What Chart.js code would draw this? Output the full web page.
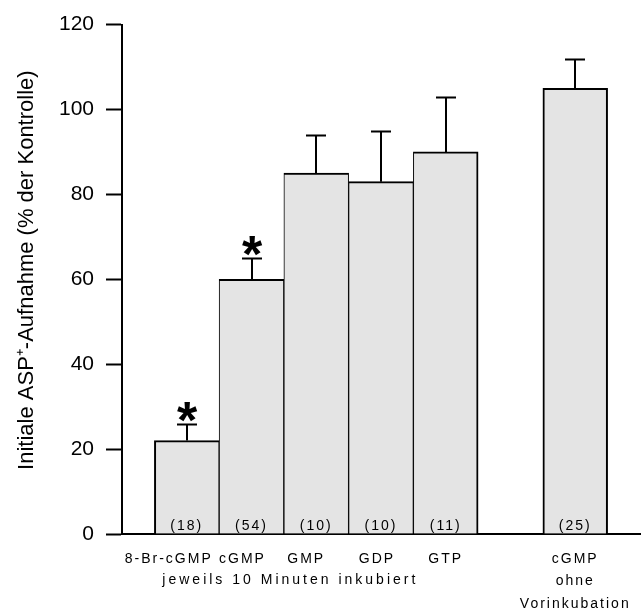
<!DOCTYPE html>
<html>
<head>
<meta charset="utf-8">
<script src="https://cdn.jsdelivr.net/npm/chart.js@4/dist/chart.umd.min.js"></script>
<style>
  html, body { margin: 0; padding: 0; background: #fff; }
  #wrap { width: 641px; height: 612px; }
</style>
</head>
<body>
<div id="wrap"><canvas id="asp_chart" width="641" height="612"></canvas></div>
<script>
// Werte
const positions = [1, 2, 3, 4, 5, 7];
const labels = ['8-Br-cGMP', 'cGMP', 'GMP', 'GDP', 'GTP', ['cGMP', 'ohne', 'Vorinkubation']];
const groupLabel = 'jeweils 10 Minuten inkubiert';
const values = [22, 60, 85, 83, 90, 105];
const errors = [4, 5, 9, 12, 13, 7];
const nLabels = ['(18)', '(54)', '(10)', '(10)', '(11)', '(25)'];
const significant = [true, true, false, false, false, false];
const yTicks = [0, 20, 40, 60, 80, 100, 120];
const yTitle = 'Initiale ASP\u207A-Aufnahme (% der Kontrolle)';

const FONT = '"Liberation Sans", Arial, sans-serif';

// Fehlerbalken (nur nach oben) und Sternchen
const errorBars = {
    id: 'errorBars',
    afterDatasetsDraw(chart) {
        let ctx = chart.ctx;
        let xs = chart.scales.x;
        let ys = chart.scales.y;
        ctx.save();
        ctx.strokeStyle = '#000';
        ctx.lineWidth = 2;
        for (let i = 0; i < values.length; i++) {
            let x = Math.round(xs.getPixelForValue(positions[i]));
            let yTop = ys.getPixelForValue(values[i]);
            let yErr = Math.round(ys.getPixelForValue(values[i] + errors[i])) + 0.5;
            ctx.beginPath();
            ctx.moveTo(x, yTop);
            ctx.lineTo(x, yErr);
            ctx.moveTo(x - 10, yErr);
            ctx.lineTo(x + 10, yErr);
            ctx.stroke();

            if (significant[i]) {
                ctx.font = 'bold 52px ' + FONT;
                ctx.textAlign = 'center';
                ctx.textBaseline = 'alphabetic';
                ctx.fillStyle = '#000';
                let m = ctx.measureText('*');
                let cy = yErr - 13;
                ctx.fillText('*', x, cy + (m.actualBoundingBoxAscent - m.actualBoundingBoxDescent) / 2);
            }
        }
        ctx.restore();
    }
};

// Beschriftungen unter der x-Achse und n-Zahlen in den Balken
const textLabels = {
    id: 'textLabels',
    afterDraw(chart) {
        let ctx = chart.ctx;
        let xs = chart.scales.x;
        let bottom = chart.chartArea.bottom;
        let nudge = [-18, -9, -10, -4, 0, 0];
        ctx.save();
        ctx.fillStyle = '#000';
        ctx.textAlign = 'center';
        ctx.textBaseline = 'middle';
        ctx.font = '14px ' + FONT;
        ctx.letterSpacing = '2px';

        for (let i = 0; i < labels.length; i++) {
            let x = xs.getPixelForValue(positions[i]);
            let lines = Array.isArray(labels[i]) ? labels[i] : [labels[i]];
            for (let j = 0; j < lines.length; j++) {
                ctx.fillText(lines[j], x + nudge[i], bottom + 25 + j * 22.5);
            }
            ctx.fillText(nLabels[i], x, bottom - 8);
        }

        ctx.letterSpacing = '3px';
        ctx.fillText(groupLabel, xs.getPixelForValue(2.6), bottom + 46);
        ctx.restore();
    }
};

let chart = new Chart(document.getElementById('asp_chart').getContext('2d'), {
    type: 'bar',
    data: {
        datasets: [{
            data: positions.map((p, i) => ({x: p, y: values[i]})),
            backgroundColor: '#e4e4e4',
            borderColor: '#000',
            borderWidth: (c) => ({
                left: (c.dataIndex === 0 || c.dataIndex === 5) ? 2 : 1,
                right: (c.dataIndex === 4 || c.dataIndex === 5) ? 2 : 1,
                top: 2,
                bottom: 0
            }),
            borderSkipped: 'start',
            barPercentage: 1,
            categoryPercentage: 1
        }]
    },
    options: {
        responsive: false,
        animation: false,
        devicePixelRatio: 1,
        layout: { padding: { top: 19, right: 1, left: 0, bottom: 0 } },
        plugins: {
            legend: { display: false },
            tooltip: { enabled: false }
        },
        scales: {
            x: {
                type: 'linear',
                min: 0,
                max: 8,
                offset: false,
                ticks: { display: false, stepSize: 1 },
                grid: { display: false },
                border: { display: true, color: '#000', width: 2 },
                afterFit: (s) => { s.height = 78; }
            },
            y: {
                min: 0,
                max: 120,
                afterBuildTicks: (s) => { s.ticks = yTicks.map(v => ({value: v})); },
                ticks: {
                    color: '#000',
                    padding: 12,
                    font: { family: FONT, size: 21 }
                },
                grid: {
                    drawOnChartArea: false,
                    drawTicks: true,
                    tickLength: 16,
                    tickWidth: 2,
                    tickColor: '#000'
                },
                border: { display: true, color: '#000', width: 2 },
                title: {
                    display: true,
                    text: '   ' + yTitle,
                    color: '#000',
                    font: { family: FONT, size: 22 },
                    padding: { top: 14, bottom: 0 }
                },
                afterFit: (s) => { s.width = 122; }
            }
        }
    },
    plugins: [errorBars, textLabels]
});
</script>
</body>
</html>
